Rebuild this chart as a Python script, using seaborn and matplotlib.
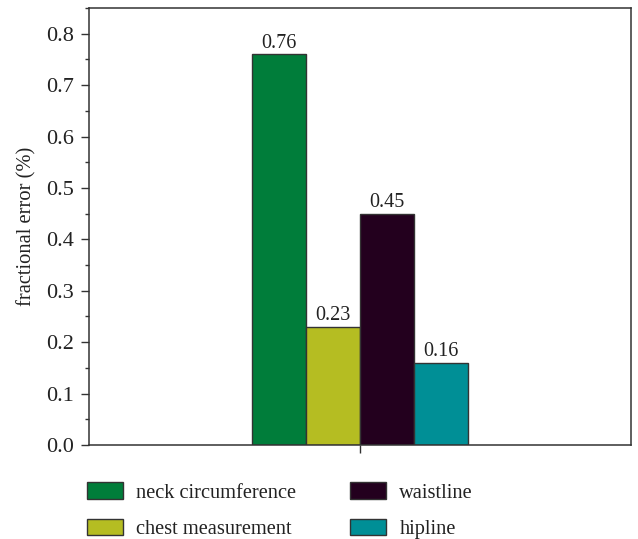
import numpy as np
import pandas as pd
import matplotlib
matplotlib.use("Agg")
import matplotlib.pyplot as plt
from matplotlib.ticker import MultipleLocator
import seaborn as sns

sns.set_style("ticks")
plt.rcParams['font.family'] = ['Liberation Serif', 'DejaVu Serif']

# data
parts = ['neck circumference', 'chest measurement', 'waistline', 'hipline']
errors = [0.76, 0.23, 0.45, 0.16]
colors = ['#007D3A', '#B5BD22', '#23001E', '#008F96']

df = pd.DataFrame({'group': [''] * len(parts), 'part': parts, 'value': errors})

fig = plt.figure(figsize=(6.38, 5.39), dpi=100)
ax = fig.add_axes([0.1395, 0.1744, 0.8495, 0.8107])

sns.barplot(data=df, x='group', y='value', hue='part', hue_order=parts,
            palette=colors, saturation=1, width=0.4, gap=0, edgecolor='#333333',
            linewidth=1, legend=False, ax=ax)

for cont in ax.containers:
    ax.bar_label(cont, fmt='%.2f', padding=1, fontsize=14.5, color='#222222')

ax.set_xlim(-0.5, 0.5)
ax.set_ylim(0, 0.85)
ax.set_xlabel('')
ax.set_xticks([0])
ax.set_xticklabels([''])
ax.yaxis.set_major_locator(MultipleLocator(0.1))
ax.yaxis.set_minor_locator(MultipleLocator(0.05))
ax.yaxis.set_major_formatter(matplotlib.ticker.FormatStrFormatter('%.1f'))
ax.tick_params(axis='y', which='major', direction='out', length=6, width=1, pad=5,
               labelsize=16, colors='#333333', labelcolor='#222222')
ax.tick_params(axis='y', which='minor', direction='out', length=3, width=1, colors='#333333')
ax.tick_params(axis='x', direction='out', length=6, width=1, colors='#333333')
ax.set_ylabel('fractional error (%)', fontsize=14.8, color='#222222', labelpad=7)

for side in ['top', 'right', 'left', 'bottom']:
    ax.spines[side].set_visible(True)
    ax.spines[side].set_color('#333333')
    ax.spines[side].set_linewidth(1.1)

handles = [matplotlib.patches.Patch(facecolor=c, edgecolor='#333333', linewidth=1) for c in colors]
fig.legend(handles, parts, loc='upper left', bbox_to_anchor=(69 / 638, 1 - 464 / 539),
           ncol=2, frameon=False, fontsize=14.7, handlelength=1.75, handleheight=0.85,
           handletextpad=0.65, columnspacing=2.64, labelspacing=0.8, labelcolor='#222222')

plt.savefig('out.png', dpi=100)
